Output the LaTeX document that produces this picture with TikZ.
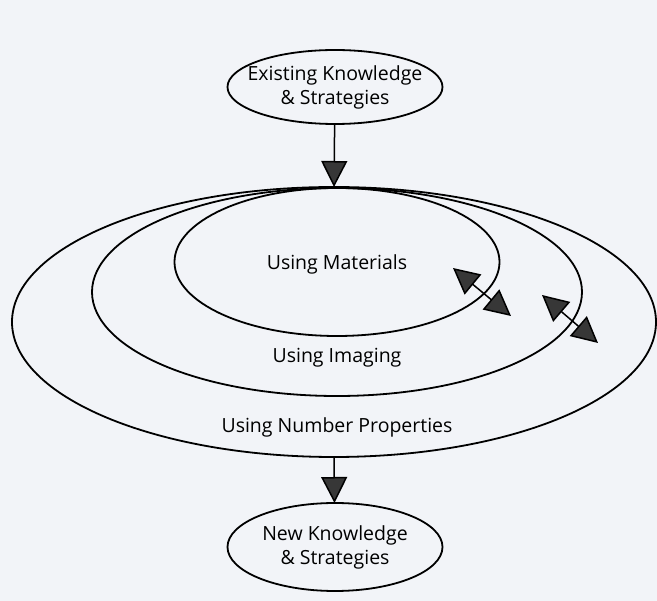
\documentclass[tikz,border=0pt]{standalone}
\usepackage{fontspec}
\setmainfont{Open Sans}
\usepackage{xcolor}
\usepackage{tikz}
\usetikzlibrary{arrows.meta,shapes.geometric}
\definecolor{paper}{RGB}{242,244,248}
\definecolor{tipgray}{RGB}{55,55,55}

\begin{document}
\begin{tikzpicture}[x=1pt, y=-1pt, line width=1.8pt, font=\fontsize{19.5}{24}\selectfont,
  ring/.style = {draw, ellipse, inner sep=0pt, outer sep=0pt},
  big/.style = {-{Triangle[length=26pt,width=26pt,fill=tipgray]}, line width=1.5pt},
  both/.style = {{Triangle[length=26pt,width=26pt,fill=tipgray]}-{Triangle[length=26pt,width=26pt,fill=tipgray]}, line width=1.5pt}]
\fill[paper] (0,0) rectangle (657,601);
\useasboundingbox (0,0) rectangle (657,601);
\node[ring, minimum width=215pt, minimum height=74pt] (old) at (335,87) {};
\node[align=center] (oldtext) at (old) {Existing Knowledge\\\& Strategies};
\node[ring, minimum width=644pt, minimum height=270pt] (numprop) at (334,322) {};
\node[ring, minimum width=490pt, minimum height=208pt] (imaging) at (337,292) {};
\node[ring, minimum width=325pt, minimum height=148pt] (materials) at (337,262) {};
\node (mlabel) at (337,264) {Using Materials};
\node (ilabel) at (337,358) {Using Imaging};
\node (plabel) at (337,427) {Using Number Properties};
\node[ring, minimum width=215pt, minimum height=88pt] (new) at (335,547) {};
\node[align=center] (newtext) at (new) {New Knowledge\\\& Strategies};
\coordinate (a1) at (453,268);
\coordinate (a2) at (511,316);
\coordinate (b1) at (542,295);
\coordinate (b2) at (598,343);
\draw[big] (old) -- (numprop.north);
\draw[big] (numprop.south) -- (new);
\draw[both] (a1) -- (a2);
\draw[both] (b1) -- (b2);
\end{tikzpicture}
\end{document}
